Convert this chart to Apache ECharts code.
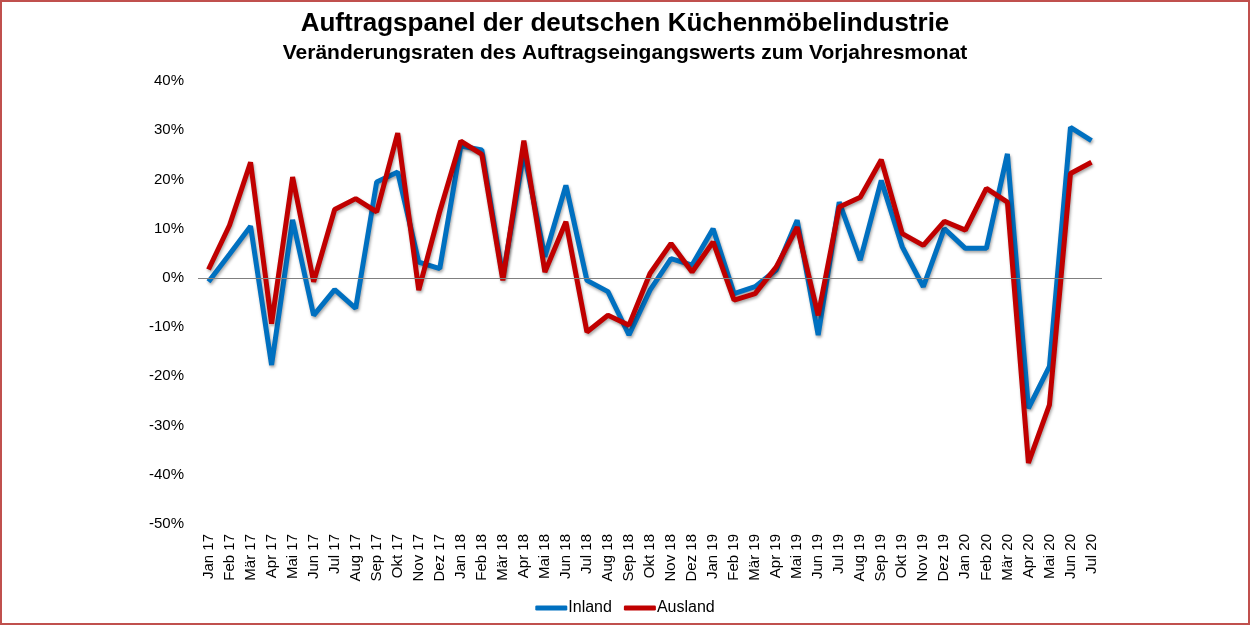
<!DOCTYPE html>
<html>
<head>
<meta charset="utf-8">
<script src="https://cdn.jsdelivr.net/npm/echarts@6/dist/echarts.min.js"></script>
<style>
  html, body { margin: 0; padding: 0; background: #fff; }
  #frame { width: 1250px; height: 625px; box-sizing: border-box; border: 2px solid #c0504d; }
  #chart { width: 1246px; height: 621px; }
</style>
</head>
<body>
<div id="frame"><div id="chart"></div></div>
<script>
const months = [
  "Jan 17","Feb 17","Mär 17","Apr 17","Mai 17","Jun 17","Jul 17","Aug 17","Sep 17","Okt 17","Nov 17","Dez 17",
  "Jan 18","Feb 18","Mär 18","Apr 18","Mai 18","Jun 18","Jul 18","Aug 18","Sep 18","Okt 18","Nov 18","Dez 18",
  "Jan 19","Feb 19","Mär 19","Apr 19","Mai 19","Jun 19","Jul 19","Aug 19","Sep 19","Okt 19","Nov 19","Dez 19",
  "Jan 20","Feb 20","Mär 20","Apr 20","Mai 20","Jun 20","Jul 20"
];

// Veränderungsraten in Prozent
const inland = [
  -0.8, 4.8, 10.5, -17.7, 11.8, -7.6, -2.4, -6.2, 19.5, 21.5, 3.2, 1.9,
  26.8, 26.0, 0.2, 25.5, 4.3, 18.8, -0.5, -2.8, -11.6, -2.5, 3.9, 2.6,
  10.0, -3.2, -1.8, 1.6, 11.7, -11.6, 15.4, 3.6, 19.8, 6.3, -1.8, 10.0,
  6.0, 6.0, 25.2, -26.5, -18.0, 30.6, 27.9
];
const ausland = [
  1.7, 10.7, 23.5, -9.3, 20.5, -0.8, 13.9, 16.1, 13.4, 29.4, -2.5, 13.5,
  27.8, 25.1, -0.5, 27.9, 1.2, 11.4, -11.0, -7.6, -9.6, 0.9, 7.0, 1.2,
  7.3, -4.5, -3.2, 2.2, 10.3, -7.6, 14.4, 16.4, 24.0, 9.0, 6.6, 11.5,
  9.7, 18.2, 15.4, -37.6, -25.8, 21.2, 23.5
];

const yTicks = { min: -50, max: 40, step: 10 };

const font = "Liberation Sans, Arial, sans-serif";
const chart = echarts.init(document.getElementById("chart"), null, { renderer: "canvas" });

const lineShadow = { shadowColor: "rgba(0,0,0,0.35)", shadowBlur: 3, shadowOffsetX: 1, shadowOffsetY: 2 };

chart.setOption({
  animation: false,
  textStyle: { fontFamily: font, color: "#000" },
  title: {
    text: "Auftragspanel der deutschen Küchenmöbelindustrie",
    subtext: "Veränderungsraten des Auftragseingangswerts zum Vorjahresmonat",
    left: "center",
    top: 4,
    itemGap: 6,
    textStyle: { fontSize: 26, fontWeight: "bold", color: "#000", fontFamily: font },
    subtextStyle: { fontSize: 21, fontWeight: "bold", color: "#000", fontFamily: font }
  },
  legend: {
    bottom: 2,
    left: "center",
    itemWidth: 32,
    itemHeight: 5,
    itemGap: 12,
    icon: "roundRect",
    textStyle: { fontSize: 16, color: "#000", padding: [0, 0, 0, -4] },
    data: ["Inland", "Ausland"]
  },
  grid: { left: 196, right: 146, top: 79, bottom: 99, containLabel: false },
  xAxis: {
    type: "category",
    data: months,
    boundaryGap: true,
    axisLine: { show: false },
    axisTick: { show: false },
    axisLabel: { rotate: 90, fontSize: 15, color: "#000", margin: 10, interval: 0 }
  },
  yAxis: {
    type: "value",
    min: yTicks.min,
    max: yTicks.max,
    interval: yTicks.step,
    axisLine: { show: false },
    axisTick: { show: false },
    splitLine: { show: false },
    axisLabel: { formatter: "{value}%", fontSize: 15, color: "#000", margin: 14 }
  },
  series: [
    {
      name: "Inland",
      type: "line",
      data: inland,
      showSymbol: false,
      color: "#0070c0",
      lineStyle: Object.assign({ width: 5, color: "#0070c0" }, lineShadow),
      markLine: {
        silent: true,
        symbol: "none",
        label: { show: false },
        lineStyle: { color: "#808080", width: 1, type: "solid" },
        data: [{ yAxis: 0 }]
      },
      z: 2
    },
    {
      name: "Ausland",
      type: "line",
      data: ausland,
      showSymbol: false,
      color: "#c00000",
      lineStyle: Object.assign({ width: 5, color: "#c00000" }, lineShadow),
      z: 3
    }
  ]
});
</script>
</body>
</html>
